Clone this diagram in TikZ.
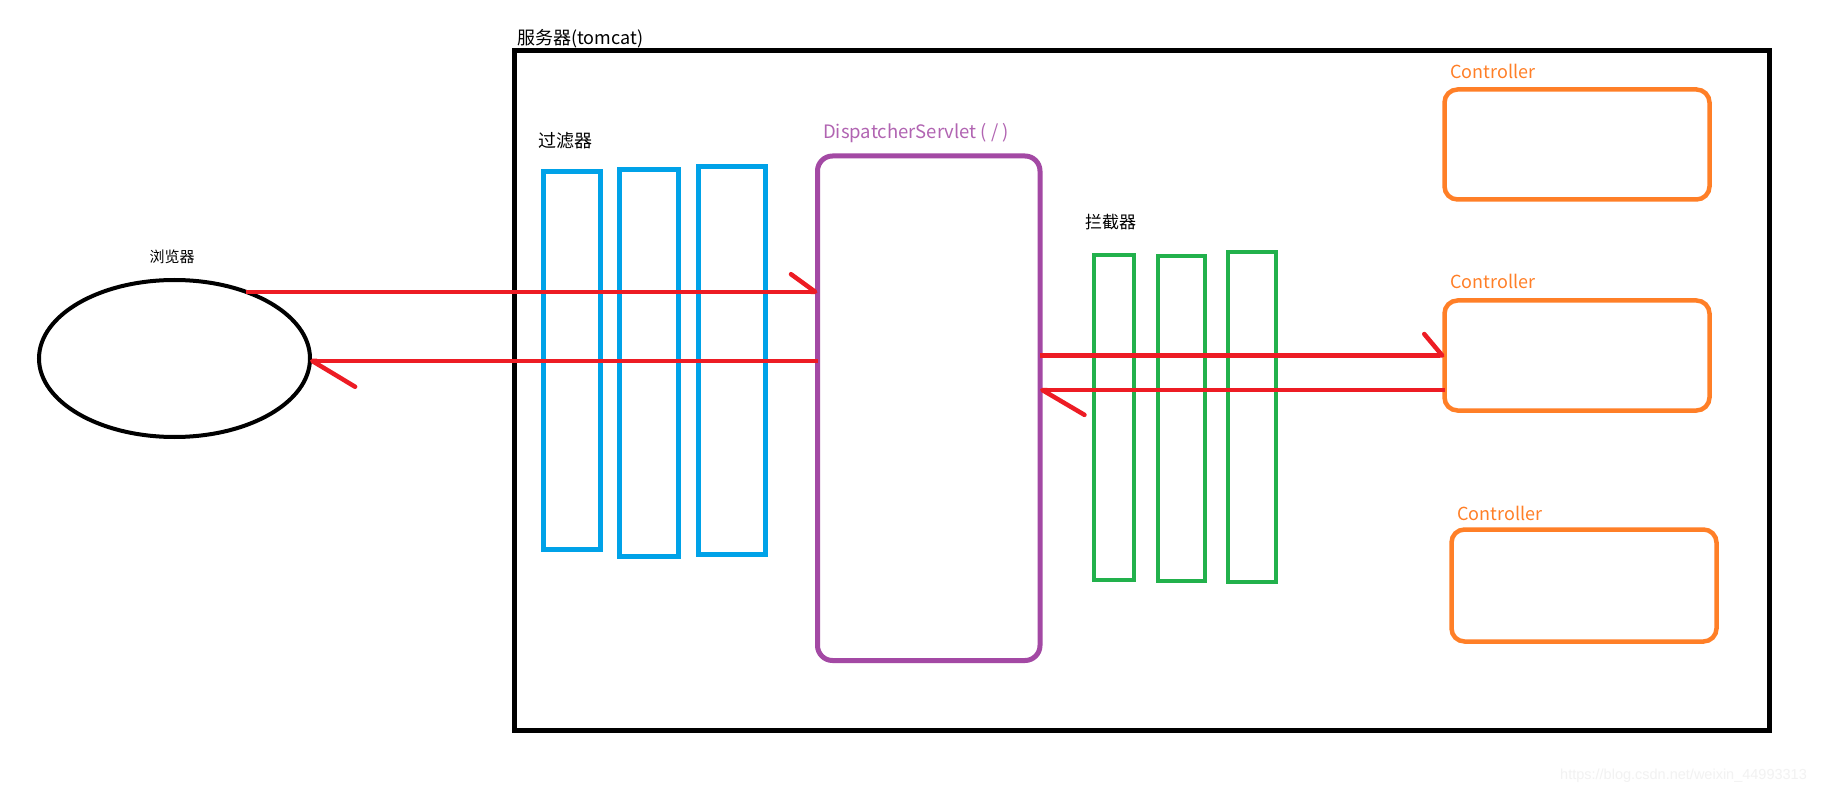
\documentclass[tikz,border=0pt]{standalone}
\usepackage{fontspec}
\setmainfont{Noto Sans CJK SC}
\newfontfamily\markfont{Liberation Sans}
\usetikzlibrary{arrows.meta,shapes.geometric}
\definecolor{pred}{HTML}{ED1C24}
\definecolor{pblue}{HTML}{00A2E8}
\definecolor{pgreen}{HTML}{22B14C}
\definecolor{porange}{HTML}{FF7F27}
\definecolor{ppurple}{HTML}{A349A4}
\begin{document}
\begin{tikzpicture}[x=1pt,y=-1pt,
    box/.style={draw,rectangle,inner sep=0pt,outer sep=0pt,line width=5pt},
    filterbox/.style={box,draw=pblue},
    interbox/.style={box,draw=pgreen,line width=4.5pt},
    ctrlbox/.style={box,draw=porange,line width=4.5pt,rounded corners=13pt,minimum width=265pt},
    flow/.style={draw=pred,line width=4.5pt},
    barb/.style 2 args={-{Straight Barb[left,round,angle=#2:#1pt]}},
    lbl/.style={inner sep=0pt,font=\fontsize{17}{20}\selectfont},
    ctrllbl/.style={lbl,anchor=base west,text=porange,font=\fontsize{18}{21}\selectfont}]
    \useasboundingbox (0,0) rectangle (1840,794);
    \fill[white] (0,0) rectangle (1840,794);
    % server, browser
    \node[box,minimum width=1254.5pt,minimum height=679pt] (server) at (1141.75,390.5) {};
    \node[lbl,anchor=base west,font=\fontsize{18}{21}\selectfont] (serverlbl) at (517,45) {服务器(tomcat)};
    \node[draw,ellipse,line width=4pt,inner sep=0pt,outer sep=0pt,minimum width=271pt,minimum height=157pt] (browser) at (174.5,358.5) {};
    \node[lbl,font=\fontsize{15}{18}\selectfont] (browserlbl) at (172,257) {浏览器};
    % filters
    \node[filterbox,minimum width=57pt,minimum height=378pt] (filter1) at (572,360.5) {};
    \node[filterbox,minimum width=59pt,minimum height=387pt] (filter2) at (649,363) {};
    \node[filterbox,minimum width=67pt,minimum height=388pt] (filter3) at (732,360.5) {};
    \node[lbl,anchor=west,font=\fontsize{18}{21}\selectfont] (filterlbl) at (538,141) {过滤器};
    % dispatcher
    \node[box,draw=ppurple,rounded corners=15pt,minimum width=222.5pt,minimum height=504.5pt] (ds) at (928.75,408.25) {};
    \node[lbl,anchor=base west,text=ppurple!85,font=\fontsize{18.5}{21}\selectfont] (dslbl) at (823,139) {DispatcherServlet ( / )};
    % interceptors
    \node[interbox,minimum width=40pt,minimum height=325pt] (inter1) at (1114,417.5) {};
    \node[interbox,minimum width=47pt,minimum height=325pt] (inter2) at (1181.5,418.5) {};
    \node[interbox,minimum width=48pt,minimum height=330pt] (inter3) at (1252,417) {};
    \node[lbl,anchor=west] (interlbl) at (1085,222.5) {拦截器};
    % controllers
    \node[ctrlbox,minimum height=110pt] (c1) at (1577,144.5) {};
    \node[ctrlbox,minimum height=110pt] (c2) at (1577,355.5) {};
    \node[ctrlbox,minimum height=112pt] (c3) at (1584,585.5) {};
    \node[ctrllbl] (c1lbl) at (1450,79) {Controller};
    \node[ctrllbl] (c2lbl) at (1450,289) {Controller};
    \node[ctrllbl] (c3lbl) at (1457,520) {Controller};
    % requests and responses
    \coordinate (back1) at ([yshift=-2.5pt]browser.east);
    \coordinate (back2) at ([yshift=-34.5pt]c2.west);
    \draw[flow,barb={30}{72}] (browser.43) -- (browser.43 -| ds.west);
    \draw[flow,barb={50}{62}] (back1 -| ds.west) -- (back1);
    \draw[flow,barb={28}{100}] (c2.west -| ds.east) -- (c2.west);
    \draw[flow,barb={49}{61}] (back2) -- (back2 -| ds.east);
    \node[inner sep=0pt,anchor=base west,text=black!5,font=\markfont\fontsize{14.5}{16}\selectfont] (mark) at (1560,779) {https://blog.csdn.net/weixin\_44993313};
\end{tikzpicture}
\end{document}
